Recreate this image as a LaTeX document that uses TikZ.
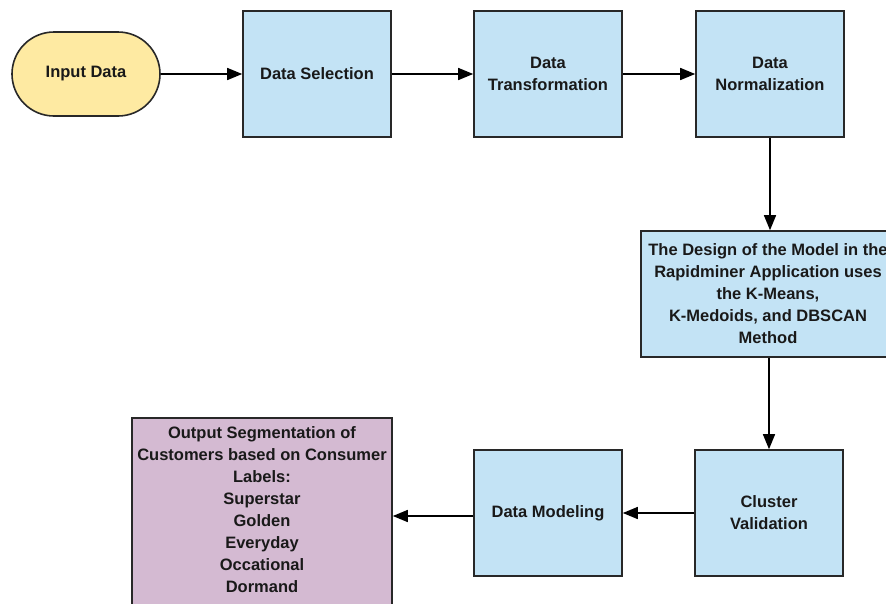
\documentclass[tikz,border=0pt]{standalone}
\usepackage{fontspec}
\setmainfont{Liberation Sans}
\usetikzlibrary{arrows.meta}
\definecolor{boxblue}{RGB}{195,227,245}
\definecolor{boxyellow}{RGB}{254,234,162}
\definecolor{boxpurple}{RGB}{212,186,210}
\definecolor{edge}{RGB}{40,40,40}
\tikzset{
  base/.style={draw=edge, line width=1.6pt, inner sep=0pt, align=center,
    font=\fontsize{16.5}{22}\selectfont\bfseries, text=black!90},
  bluebox/.style={base, fill=boxblue, minimum width=148pt, minimum height=126pt},
  conn/.style={line width=1.5pt, draw=black, -{Triangle[length=15pt,width=12pt]}}
}
\begin{document}
\begin{tikzpicture}[x=1pt,y=-1pt]
\useasboundingbox (0,0) rectangle (886,603);
\clip (0,0) rectangle (886,603);
\node[base, fill=boxyellow, minimum width=148pt, minimum height=84pt, rounded corners=42pt] (in) at (86,74) {Input Data};
\node[bluebox] (sel) at (317,74) {Data Selection};
\node[bluebox] (trans) at (548,74) {Data\\Transformation};
\node[bluebox] (norm) at (770,74) {Data\\Normalization};
\node[base, fill=boxblue, minimum width=254pt, minimum height=126pt] (design) at (768,294)
  {The Design of the Model in the\\Rapidminer Application uses\\the K-Means,\\K-Medoids, and DBSCAN\\Method};
\node[bluebox] (cluster) at (769,513) {Cluster\\Validation};
\node[bluebox] (model) at (548,513) {Data Modeling};
\node[base, fill=boxpurple, minimum width=260pt, minimum height=200pt, anchor=north] (out) at (262,417) {};
\node[align=center, font=\fontsize{16.5}{22}\selectfont\bfseries, text=black!90, anchor=north, inner sep=0pt] (outtext) at (262,426)
  {Output Segmentation of\\Customers based on Consumer\\Labels:\\Superstar\\Golden\\Everyday\\Occational\\Dormand};
\draw[conn] (in.east) -- (sel.west);
\draw[conn] (sel.east) -- (trans.west);
\draw[conn] (trans.east) -- (norm.west);
\draw[conn] (norm.south) -- (norm.south |- design.north);
\draw[conn] (cluster.north |- design.south) -- (cluster.north);
\draw[conn] (cluster.west) -- (model.east);
\draw[conn] ([yshift=-3pt]model.west) -- ([yshift=-3pt]model.west -| out.east);
\end{tikzpicture}
\end{document}
